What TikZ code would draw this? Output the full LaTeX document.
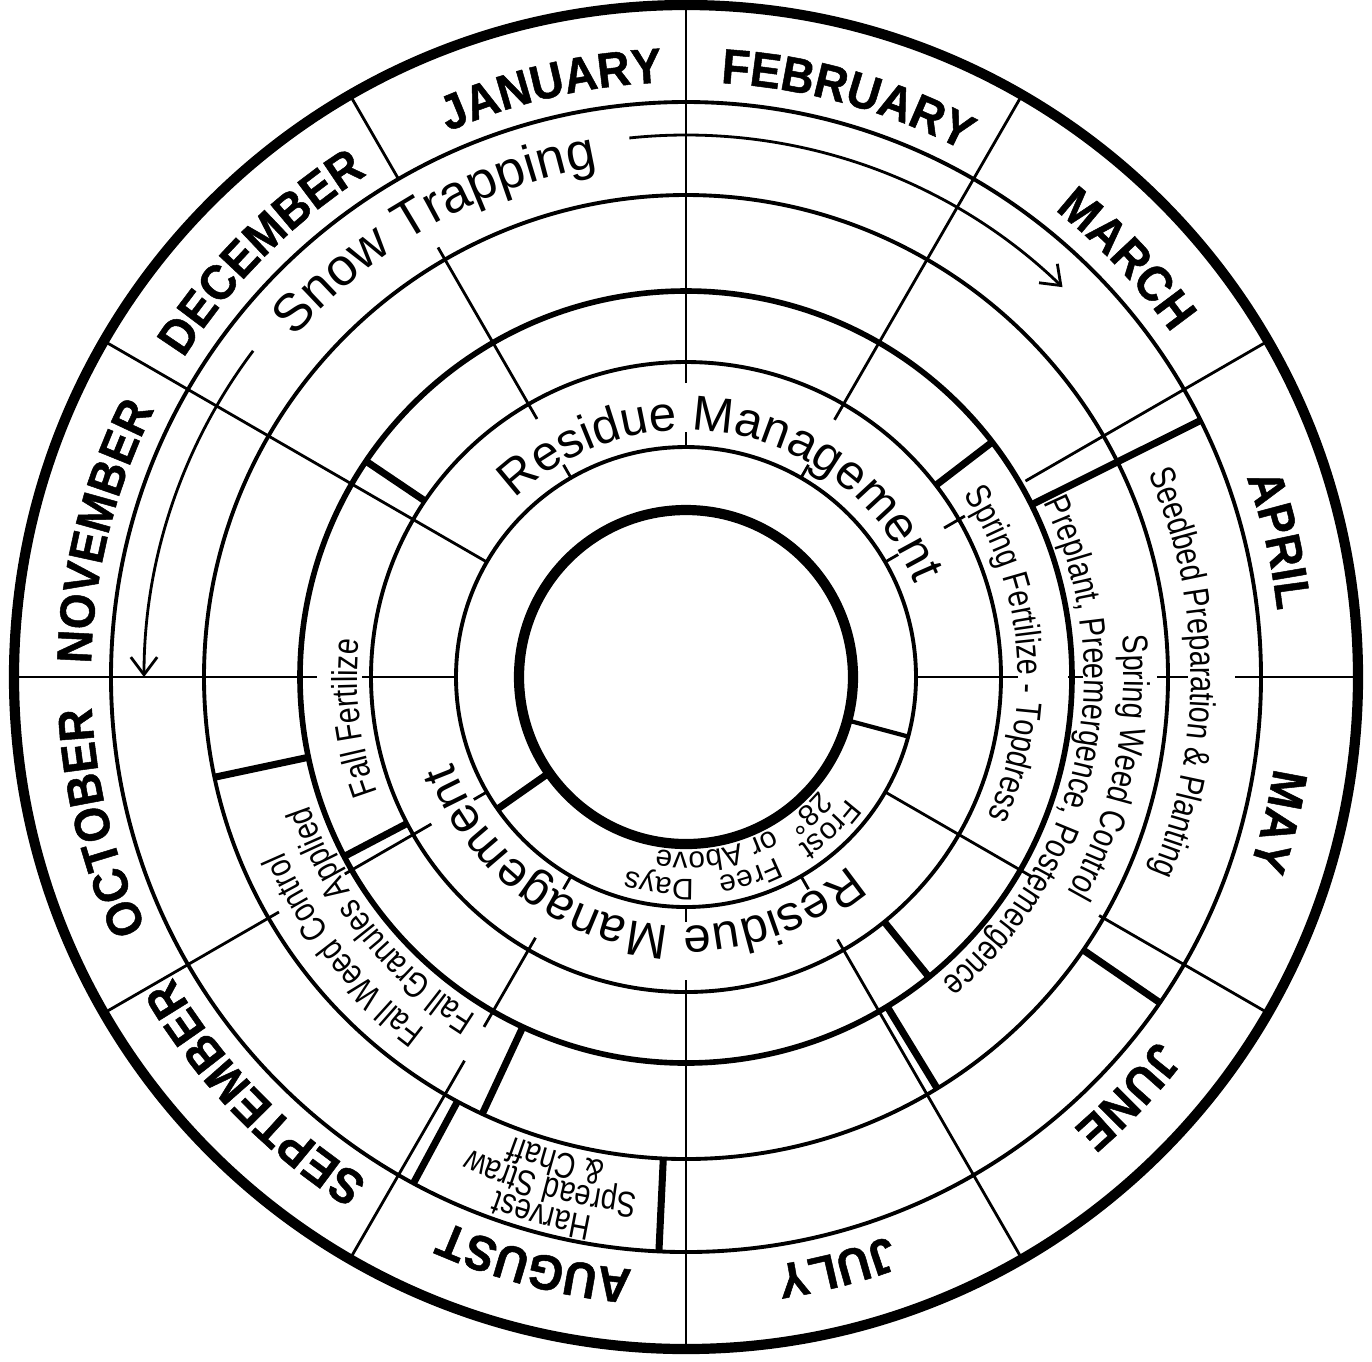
\documentclass[tikz,border=0pt]{standalone}
\usepackage{fontspec}
\setmainfont{Liberation Sans}
\newfontfamily\monthfamily{Liberation Sans}[FakeStretch=0.93,BoldFeatures={FakeBold=1}]
\newfontfamily\taskfamily{Liberation Sans}[FakeStretch=0.8]
\usetikzlibrary{arrows.meta}

\newcommand\monthfont{\monthfamily\fontsize{14}{16}\selectfont\bfseries}
\newcommand\snowfont{\fontsize{15}{17}\selectfont}
\newcommand\residuefont{\fontsize{14}{16}\selectfont}
\newcommand\taskfont{\taskfamily\fontsize{10.2}{12}\selectfont}
\newcommand\frostfont{\fontsize{8.5}{10}\selectfont}

% text round the centre, read clockwise, tops outward
% #1 radius (cm), #2 centre angle, #3 font, #4 text
\newdimen\chw
\def\ctend{}
\newcommand\ctmeasure[1]{%
  \pgfinterruptpicture\settowidth\chw{#1}\global\chw=\chw\endpgfinterruptpicture}
\newcommand\circtext[4]{%
  \def\ctrad{#1}\def\ctfont{#3}%
  \ctmeasure{#3#4}%
  \pgfmathsetmacro\ctang{#2+\the\chw/(#1*28.4528)*28.6479}%
  \ctwords#4 \ctstop}
\def\ctwords#1 #2\ctstop{%
  \ctchars#1\ctend
  \ifx\relax#2\relax\else
    \ctmeasure{\ctfont\ }%
    \pgfmathsetmacro\ctang{\ctang-\the\chw/(\ctrad*28.4528)*57.2958}%
    \ctwords#2\ctstop
  \fi}
\def\ctchars#1{%
  \ifx#1\ctend\else
    \ctmeasure{\ctfont#1}%
    \pgfmathsetmacro\ctmid{\ctang-\the\chw/(\ctrad*28.4528)*28.6479}%
    \pgfmathsetmacro\ctrot{\ctmid-90}%
    \node[rotate=\ctrot,anchor=base,inner sep=0pt] at (\ctmid:\ctrad) {\ctfont#1};
    \pgfmathsetmacro\ctang{\ctang-\the\chw/(\ctrad*28.4528)*57.2958}%
    \expandafter\ctchars
  \fi}

\begin{document}
\begin{tikzpicture}[
    rim/.style={line width=2.9pt},
    ring/.style={line width=1.1pt},
    spoke/.style={line width=0.8pt},
    bar/.style={line width=2pt},
    flow/.style={line width=0.8pt,-{Straight Barb[length=5pt,width=7.5pt]}}]
  \useasboundingbox (-6.86,-6.84) rectangle (6.86,6.77);
  % rings
  \draw[rim] (0,0) circle (6.72);
  \draw[rim] (0,0) circle (1.67);
  \foreach \r in {5.75,4.82,3.15,2.30}
    \draw[ring] (0,0) circle (\r);
  \draw[line width=1.6pt] (0,0) circle (3.86);
  % month dividers
  \foreach \a in {0,30,...,330}
    \draw[spoke] (\a:5.75) -- (\a:6.72);
  % inner spokes, broken where the labels run
  \foreach \a/\ri/\ro in {90/2.94/5.75, 60/2.97/5.75, 120/2.98/4.96,
      30/3.92/5.75, 30/2.98/3.22, 0/5.49/5.75, 0/4.71/5.02, 0/3.82/3.97,
      0/2.30/3.32, -30/4.77/5.75, -30/2.30/4.00, -60/3.03/5.75,
      -90/3.03/5.75, 240/4.43/5.75, 240/3.01/4.04, 210/4.70/5.75,
      210/2.94/3.94, 180/3.69/5.75, 180/2.30/3.24, 150/2.30/5.75}
    \draw[spoke] (\a:\ri) -- (\a:\ro);
  \foreach \a in {120,90,60,30,-60,-90,240,210}
    \draw[spoke] (\a:2.30) -- (\a:2.45);
  % start and end of each job
  \foreach \a/\ri/\ro in {146/3.15/3.86, 207.7/3.15/3.86, 192/3.86/4.82,
      245/3.86/4.82, 241.7/4.82/5.75, 267.3/4.82/5.75, -51/3.15/3.86,
      -58.6/3.86/4.82, -34.5/4.82/5.75, 26.5/3.86/5.75, 37.5/3.15/3.86,
      215/1.67/2.30}
    \draw[bar] (\a:\ri) -- (\a:\ro);
  \draw[line width=1.2pt] (-15:1.67) -- (-15:2.30);
  % snow trapping arrows
  \draw[flow] (143:5.42) arc[start angle=143,end angle=180,radius=5.42];
  \draw[flow] (96:5.42) arc[start angle=96,end angle=46,radius=5.42];
  % months
  \circtext{5.95}{103}{\monthfont}{JANUARY}
  \circtext{5.95}{74.5}{\monthfont}{FEBRUARY}
  \circtext{5.95}{43.5}{\monthfont}{MARCH}
  \circtext{5.95}{13}{\monthfont}{APRIL}
  \circtext{5.95}{-13.5}{\monthfont}{MAY}
  \circtext{5.95}{-43.5}{\monthfont}{JUNE}
  \circtext{5.95}{-75.5}{\monthfont}{JULY}
  \circtext{5.95}{-104.5}{\monthfont}{AUGUST}
  \circtext{5.95}{-136}{\monthfont}{SEPTEMBER}
  \circtext{5.95}{-166}{\monthfont}{OCTOBER}
  \circtext{5.95}{166}{\monthfont}{NOVEMBER}
  \circtext{5.95}{135}{\monthfont}{DECEMBER}
  % jobs
  \circtext{5.18}{119.5}{\snowfont}{Snow Trapping}
  \circtext{2.47}{78}{\residuefont}{Residue Management}
  \circtext{2.49}{-104.5}{\residuefont}{Residue Management}
  \circtext{3.32}{4.5}{\taskfont}{Spring Fertilize - Topdress}
  \circtext{4.38}{-12}{\taskfont}{Spring Weed Control}
  \circtext{3.98}{-12}{\taskfont}{Preplant, Preemergence, Postemergence}
  \circtext{5.05}{0.5}{\taskfont}{Seedbed Preparation \& Planting}
  \circtext{3.29}{187}{\taskfont}{Fall Fertilize}
  \circtext{4.38}{218.5}{\taskfont}{Fall Weed Control}
  \circtext{3.98}{218.5}{\taskfont}{Fall Granules Applied}
  \circtext{5.47}{255}{\taskfont}{Harvest}
  \circtext{5.19}{255}{\taskfont}{Spread Straw}
  \circtext{4.91}{255}{\taskfont}{\& Chaff}
  \circtext{2.02}{-72}{\frostfont}{Frost\ \ \ Free\ \ \ Days}
  \circtext{1.75}{-70}{\frostfont}{28°\ \ or Above}
\end{tikzpicture}
\end{document}
